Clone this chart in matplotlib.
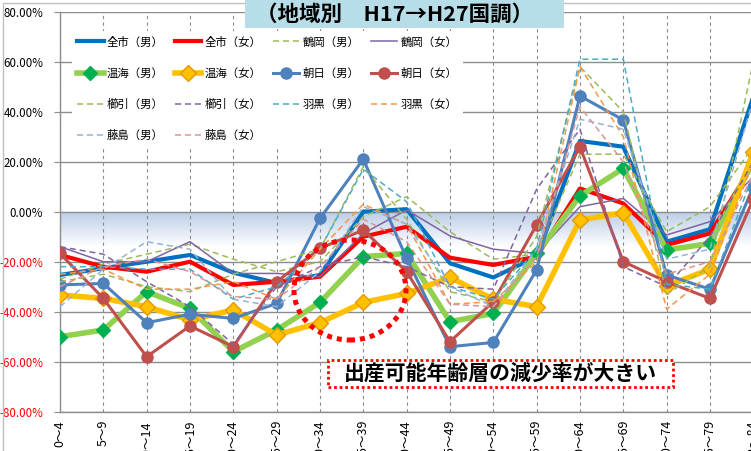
import numpy as np
import matplotlib
matplotlib.use('Agg')
import matplotlib.pyplot as plt
from matplotlib.patches import Rectangle, Ellipse

plt.rcParams['font.family'] = ['Noto Sans CJK JP', 'DejaVu Sans']

# 年齢階級
ages = ['0～4', '5～9', '10～14', '15～19', '20～24', '25～29', '30～34', '35～39',
        '40～44', '45～49', '50～54', '55～59', '60～64', '65～69', '70～74', '75～79', '80～84']

# 増減率 (%)  H17→H27
zenshi_m = [-25.3, -22.6, -20.0, -17.3, -24.4, -28.5, -25.3, 0.0, 1.0, -20.6, -26.3, -18.0, 28.3, 26.0, -12.0, -7.0, 46.0]
zenshi_f = [-17.3, -22.0, -24.0, -20.0, -29.3, -28.0, -26.0, -10.0, -6.0, -18.4, -21.3, -18.0, 9.3, 3.3, -13.3, -8.7, 19.0]
tsuruoka_m = [-27, -21, -17, -13, -19, -24, -20, -2, 6, -8, -19, -17, 23, 23, -8, 2, 26]
tsuruoka_f = [-14, -20, -20, -12, -24.7, -24.7, -26, -8.7, 0.7, -9.7, -15, -16.7, 2, 5.3, -9.3, -4, 14]
atsumi_m = [-50, -47.3, -32, -38.7, -56, -47.3, -36.3, -18, -16.7, -44, -40.7, -16.7, 6.3, 17.3, -15.3, -12.7, 20]
atsumi_f = [-33.3, -34.7, -38, -43.3, -39.3, -49.3, -44.4, -36.3, -32.7, -26.3, -35, -38, -3.3, -0.4, -29.7, -23, 24]
asahi_m = [-29.3, -28.7, -44.4, -41, -42.7, -36.7, -2.7, 21, -18.7, -54, -52.3, -23.3, 46.3, 36.7, -25.3, -31, 10]
asahi_f = [-16.7, -34.7, -58, -45.7, -54, -28, -14.7, -7.3, -24, -52, -36, -5.3, 26, -20, -28, -34.7, 5]
kushibiki_m = [-28, -25, -30, -32, -25, -20, -15, 18, -3, -32, -36, -10, 58, 40, -33, -22, 60]
kushibiki_f = [-14, -17, -28, -38, -53, -30, -22, -18, -22, -30, -31, 9, 33, -22, -30, -10, 20]
haguro_m = [-22, -22, -23, -23, -35, -30, -15, 17, 4, -30, -35, -15, 61, 61, -29, -31, 15]
haguro_f = [-25, -23, -31, -31, -28, -35, -15, 3, -5, -37, -36, -20, 58, 30, -39, -25, 20]
fujishima_m = [-38, -23, -12, -15, -35, -38, -24, 2, -5, -30, -38, -15, 37, 33, -19, -15, 45]
fujishima_f = [-30, -22, -19, -24, -34, -35, -22, -3, -12, -37, -38, -18, 42, 20, -25, -20, 15]

W, H = 751, 451
fig = plt.figure(figsize=(W / 100, H / 100), dpi=100)

def fx(px):
    return px / W

def fy(py):
    return 1 - py / H

# プロットエリア (右側は画像の外にはみ出す)
x0, x_step = 60, 43.33
ax = fig.add_axes([fx(x0), fy(411.7), 17 * x_step / W, (411.7 - 11.7) / H])
x = np.arange(len(ages))
ax.set_xlim(0, 17)
ax.set_ylim(-80, 80)

# 0% 下のグラデーション
grad = np.zeros((100, 1, 4))
grad[:, 0, 0] = 0.74
grad[:, 0, 1] = 0.81
grad[:, 0, 2] = 0.91
grad[:, 0, 3] = np.linspace(1, 0, 100)
ax.imshow(grad, extent=(0, 17, -14, 0), aspect='auto', zorder=0, interpolation='bilinear')

for v in range(-80, 81, 20):
    ax.axhline(v, color='#8c8c8c', lw=1.0, zorder=1)
for i in x:
    ax.axvline(i, color='#8c8c8c', lw=0.8, ls=(0, (3, 3)), zorder=1)

dash = (0, (4, 2.5))
series = [
    ('全市（男）', zenshi_m, dict(color='#0070C0', lw=3.0)),
    ('全市（女）', zenshi_f, dict(color='#FF0000', lw=3.0)),
    ('鶴岡（男）', tsuruoka_m, dict(color='#9BBB59', lw=1.1, ls=dash)),
    ('鶴岡（女）', tsuruoka_f, dict(color='#8064A2', lw=1.1)),
    ('温海（男）', atsumi_m, dict(color='#92D050', lw=4.0, marker='D', ms=7.5,
                              mfc='#00B050', mec='#00B050')),
    ('温海（女）', atsumi_f, dict(color='#FFC000', lw=4.0, marker='D', ms=8,
                              mfc='#FFC000', mec='#E59800', mew=1.0)),
    ('朝日（男）', asahi_m, dict(color='#4F81BD', lw=2.2, marker='o', ms=8,
                             mfc='#4F81BD', mec='#4F81BD')),
    ('朝日（女）', asahi_f, dict(color='#C0504D', lw=2.2, marker='o', ms=8,
                             mfc='#C0504D', mec='#C0504D')),
    ('櫛引（男）', kushibiki_m, dict(color='#9BBB59', lw=1.1, ls=dash)),
    ('櫛引（女）', kushibiki_f, dict(color='#8064A2', lw=1.1, ls=dash)),
    ('羽黒（男）', haguro_m, dict(color='#4BACC6', lw=1.1, ls=dash)),
    ('羽黒（女）', haguro_f, dict(color='#F79646', lw=1.1, ls=dash)),
    ('藤島（男）', fujishima_m, dict(color='#95B3D7', lw=1.1, ls=dash)),
    ('藤島（女）', fujishima_f, dict(color='#D99694', lw=1.1, ls=dash)),
]

handles = []
for k, (name, vals, st) in enumerate(series):
    ln, = ax.plot(x, vals, label=name, zorder=3 + k * 0.1, clip_on=True, **st)
    handles.append(ln)

# 凡例 (行方向に並べる)
order = [0, 4, 8, 12, 1, 5, 9, 13, 2, 6, 10, 3, 7, 11]
leg = ax.legend([handles[i] for i in order], [series[i][0] for i in order],
                ncol=4, loc='upper left', bbox_to_anchor=(fx(66), fy(25)),
                bbox_transform=fig.transFigure, fontsize=8.2, frameon=True,
                fancybox=False, edgecolor='none', facecolor='white', framealpha=1,
                handlelength=2.3, handletextpad=0.3, columnspacing=1.0,
                labelspacing=1.77, borderpad=0.5)
leg.set_zorder(10)

ax.set_yticks(range(-80, 81, 20))
ax.set_yticklabels([f'{v:.2f}%' for v in range(-80, 81, 20)], fontsize=8.3)
for lab, v in zip(ax.get_yticklabels(), range(-80, 81, 20)):
    lab.set_color('#FF0000' if v < 0 else '#000000')
ax.tick_params(axis='y', length=4, color='#8c8c8c', pad=8)
ax.set_xticks(x)
ax.set_xticklabels(ages, rotation=90, fontsize=9, va='top')
ax.tick_params(axis='x', length=0, pad=6)
for s in ['top', 'right']:
    ax.spines[s].set_visible(False)
for s in ['left', 'bottom']:
    ax.spines[s].set_color('#8c8c8c')
    ax.spines[s].set_linewidth(1.0)

# グラフエリアの枠線
fig.patches.append(Rectangle((fx(3), -0.1), 1.2, fy(3) + 0.1, transform=fig.transFigure,
                             fill=False, edgecolor='#bfbfbf', lw=1.0))

# タイトル
fig.patches.append(Rectangle((fx(245), fy(28)), fx(564) - fx(245), fy(0) - fy(28),
                             transform=fig.transFigure, facecolor='#B7DEE8',
                             edgecolor='none', zorder=20))
fig.text(fx(395), fy(14), '（地域別　H17→H27国調）', fontsize=15.5, fontweight='bold',
         ha='center', va='center', zorder=21)

# 注目範囲の楕円
fig.patches.append(Ellipse((fx(350), fy(290)), fx(112), 100 / H, transform=fig.transFigure,
                           fill=False, edgecolor='#FF0000', lw=3.6, ls=(0, (1, 1)),
                           zorder=15))

# 注釈
fig.patches.append(Rectangle((fx(328), fy(387)), fx(673) - fx(328), fy(360) - fy(387),
                             transform=fig.transFigure, facecolor='white',
                             edgecolor='#FF0000', lw=2.0, ls=(0, (1, 1)), zorder=16))
fig.text(fx(500), fy(373.5), '出産可能年齢層の減少率が大きい', fontsize=15,
         fontweight='bold', ha='center', va='center', zorder=17)

fig.savefig('out.png', dpi=100)
